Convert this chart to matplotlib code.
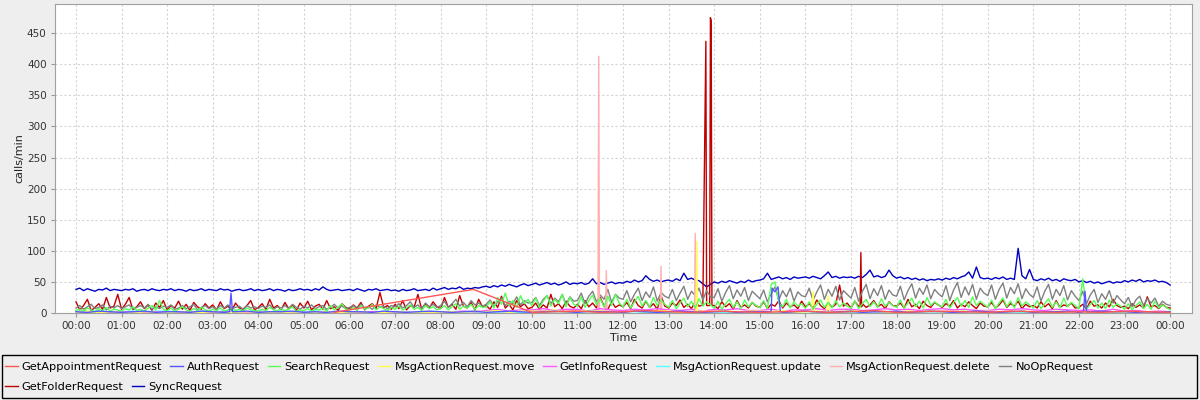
import numpy as np
import pandas as pd
import matplotlib
matplotlib.use('Agg')
import matplotlib.pyplot as plt
from matplotlib.lines import Line2D
from matplotlib.patches import Rectangle

# sample times in minutes after midnight
t5 = np.arange(0, 1441, 5)
t15 = np.arange(0, 1441, 15)

# SyncRequest, 5-minute samples (calls/min)
sync_vals = [
    38, 40, 36, 39, 37, 35, 38, 37, 40, 36, 38, 37,
    36, 38, 37, 39, 35, 37, 38, 36, 39, 37, 36, 38,
    37, 39, 36, 38, 37, 35, 38, 36, 37, 39, 36, 38,
    37, 36, 39, 37, 38, 35, 37, 38, 36, 37, 39, 36,
    38, 36, 37, 39, 36, 38, 37, 35, 38, 36, 37, 39,
    37, 38, 36, 39, 37, 42, 38, 36, 37, 38, 36, 37,
    38, 36, 39, 37, 35, 38, 37, 39, 36, 37, 38, 36,
    37, 35, 38, 36, 37, 39, 36, 37, 38, 36, 40, 37,
    39, 41, 38, 40, 39, 42, 38, 40, 39, 41, 40, 42,
    43, 41, 44, 42, 45, 43, 46, 44, 42, 45, 47, 44,
    46, 48, 45, 47, 49, 46, 48, 45, 47, 50, 46, 48,
    47, 49, 46, 48, 55, 47, 49, 46, 48, 50, 47, 49,
    48, 51, 49, 53, 50, 52, 60, 54, 51, 53, 50, 52,
    53, 51, 55, 52, 64, 54, 56, 53, 52, 47, 42, 46,
    50, 48, 51, 49, 52, 50, 48, 51, 49, 53, 50, 52,
    53, 55, 64, 54, 56, 58, 55, 57, 54, 58, 56, 57,
    58, 56, 59, 57, 55, 60, 66, 57, 59, 56, 58, 57,
    58, 56, 59, 57, 62, 69, 58, 60, 57, 59, 69, 60,
    56, 58, 55, 57, 54, 56, 53, 55, 52, 54, 53, 55,
    53, 56, 54, 57, 55, 58, 60, 66, 56, 74, 57, 55,
    56, 54, 57, 55, 58, 54, 56, 54, 104, 60, 55, 70,
    54, 52, 55, 53, 56, 52, 54, 51, 55, 53, 52, 54,
    50, 52, 49, 51, 48, 50, 47, 49, 51, 48, 50, 49,
    52, 50, 53, 51, 54, 50, 52, 51, 53, 50, 51, 49,
    45]

# NoOpRequest, 5-minute samples
noop_vals = [
    8, 12, 6, 10, 14, 7, 9, 13, 5, 11, 8, 12,
    7, 10, 13, 6, 9, 12, 8, 14, 6, 10, 7, 11,
    9, 13, 6, 8, 12, 7, 10, 14, 5, 9, 12, 7,
    10, 6, 12, 8, 13, 7, 9, 11, 6, 12, 8, 10,
    7, 11, 9, 13, 6, 10, 8, 12, 7, 14, 9, 6,
    11, 8, 13, 7, 10, 12, 6, 9, 14, 8, 11, 7,
    9, 12, 7, 14, 8, 10, 6, 13, 9, 11, 7, 12,
    10, 15, 8, 12, 18, 9, 13, 7, 16, 10, 14, 9,
    12, 19, 9, 15, 22, 11, 17, 10, 20, 13, 16, 11,
    14, 21, 10, 18, 24, 12, 19, 15, 26, 13, 20, 16,
    17, 25, 12, 22, 28, 15, 24, 18, 30, 14, 26, 19,
    20, 32, 15, 27, 35, 18, 29, 22, 38, 17, 30, 24,
    22, 36, 18, 30, 40, 20, 34, 25, 42, 19, 33, 27,
    24, 38, 20, 32, 43, 22, 35, 28, 40, 21, 36, 26,
    25, 39, 19, 33, 44, 23, 37, 27, 41, 20, 35, 29,
    23, 37, 18, 31, 42, 21, 36, 26, 40, 19, 34, 28,
    26, 40, 20, 34, 45, 22, 38, 27, 43, 21, 36, 30,
    24, 41, 19, 35, 46, 23, 39, 28, 44, 22, 37, 29,
    27, 43, 21, 36, 47, 24, 40, 30, 45, 23, 38, 31,
    26, 44, 20, 37, 49, 25, 42, 29, 46, 22, 40, 32,
    28, 45, 22, 38, 48, 24, 41, 31, 47, 23, 39, 30,
    25, 42, 19, 35, 46, 22, 38, 28, 44, 21, 36, 27,
    20, 35, 15, 29, 38, 17, 31, 22, 36, 16, 28, 21,
    15, 25, 10, 21, 27, 12, 23, 16, 24, 11, 19, 14,
    12]

# SearchRequest, 5-minute samples
search_vals = [
    4, 6, 3, 8, 5, 2, 7, 4, 9, 3, 6, 5,
    3, 7, 5, 10, 4, 6, 3, 8, 12, 5, 20, 6,
    4, 8, 3, 6, 10, 5, 3, 7, 4, 9, 5, 3,
    6, 4, 8, 3, 5, 7, 4, 6, 3, 8, 5, 4,
    3, 6, 4, 9, 5, 3, 7, 4, 6, 10, 3, 5,
    4, 7, 3, 6, 5, 8, 3, 12, 5, 9, 15, 6,
    5, 9, 4, 12, 6, 8, 14, 5, 10, 7, 4, 9,
    6, 11, 5, 8, 13, 6, 9, 4, 12, 7, 10, 5,
    7, 12, 5, 10, 15, 6, 11, 8, 14, 6, 12, 9,
    10, 18, 8, 25, 14, 32, 12, 20, 9, 28, 15, 22,
    12, 24, 9, 19, 28, 11, 22, 15, 30, 10, 25, 14,
    11, 26, 9, 20, 29, 13, 23, 10, 27, 12, 30, 16,
    10, 22, 8, 18, 27, 11, 20, 9, 25, 12, 21, 14,
    9, 20, 7, 16, 24, 10, 19, 8, 23, 11, 18, 13,
    8, 19, 6, 15, 22, 9, 18, 7, 21, 10, 17, 12,
    9, 20, 7, 46, 50, 16, 10, 22, 8, 18, 11, 15,
    7, 18, 6, 14, 21, 9, 17, 8, 20, 10, 16, 11,
    8, 20, 7, 15, 22, 10, 18, 9, 23, 11, 17, 12,
    9, 21, 8, 16, 24, 10, 19, 8, 25, 12, 18, 13,
    10, 22, 8, 17, 25, 11, 20, 9, 26, 12, 19, 14,
    9, 21, 7, 16, 24, 10, 19, 8, 25, 11, 18, 13,
    8, 20, 7, 15, 23, 9, 18, 8, 24, 10, 17, 12,
    7, 55, 6, 14, 20, 8, 16, 7, 21, 9, 15, 11,
    6, 15, 5, 12, 18, 7, 14, 6, 19, 8, 13, 9,
    5]

# GetFolderRequest, 5-minute samples plus the short spikes
folder_vals = [
    18, 5, 12, 22, 4, 9, 15, 6, 25, 8, 11, 30,
    6, 14, 25, 5, 10, 18, 7, 13, 4, 16, 9, 20,
    5, 12, 8, 19, 6, 14, 4, 17, 10, 6, 15, 8,
    13, 5, 18, 7, 11, 4, 16, 8, 6, 12, 20, 5,
    9, 15, 6, 22, 8, 12, 5, 17, 7, 13, 4, 16,
    8, 19, 5, 11, 14, 6, 20, 7, 10, 4, 15, 9,
    6, 13, 8, 17, 5, 11, 15, 7, 33, 9, 12, 6,
    14, 7, 20, 5, 12, 9, 30, 6, 15, 8, 18, 10,
    7, 25, 9, 14, 6, 28, 11, 8, 17, 5, 22, 10,
    12, 6, 18, 9, 27, 8, 14, 5, 20, 10, 15, 7,
    9, 16, 6, 13, 8, 30, 10, 15, 7, 19, 11, 8,
    14, 7, 20, 10, 16, 8, 25, 11, 6, 18, 9, 13,
    10, 17, 7, 22, 12, 8, 19, 9, 15, 6, 28, 11,
    8, 16, 12, 21, 9, 14, 7, 18, 11, 13, 30, 17,
    12, 7, 18, 10, 15, 6, 20, 9, 13, 8, 17, 11,
    9, 18, 7, 14, 11, 20, 8, 16, 10, 13, 7, 19,
    10, 15, 8, 21, 12, 7, 17, 9, 14, 45, 11, 16,
    8, 19, 11, 15, 9, 13, 20, 10, 14, 7, 18, 12,
    11, 16, 8, 22, 10, 14, 7, 19, 12, 9, 17, 13,
    9, 15, 11, 20, 8, 14, 10, 18, 12, 7, 16, 11,
    10, 17, 8, 13, 21, 9, 15, 11, 19, 7, 14, 10,
    12, 8, 18, 10, 15, 7, 20, 9, 13, 11, 16, 8,
    9, 14, 7, 19, 11, 13, 8, 16, 10, 22, 12, 9,
    11, 7, 15, 9, 13, 8, 26, 10, 12, 7, 14, 9,
    8]
folder_spike_t = [829, 830, 834, 835, 836, 837, 1032, 1033, 1034]
folder_spike_v = [437, 12, 12, 475, 470, 12, 10, 97, 10]

# AuthRequest, 15-minute samples plus spikes
auth_vals = [
    2, 1, 3, 2,  1, 2, 3, 1,  2, 2, 1, 3,  2, 1, 2, 3,
    1, 2, 2, 3,  1, 2, 1, 3,  2, 2, 1, 3,  2, 1, 2, 3,
    2, 1, 2, 3,  1, 2, 3, 2,  1, 2, 3, 2,  1, 3, 2, 2,
    1, 3, 2, 1,  2, 3, 2, 1,  2, 3, 1, 2,  2, 3, 1, 2,
    3, 2, 1, 2,  3, 1, 2, 2,  3, 1, 2, 3,  2, 1, 2, 3,
    2, 1, 2, 3,  1, 2, 2, 3,  1, 2, 3, 2,  2, 1, 2, 1,
    2]
auth_spike_t = [202, 204, 206, 913, 916, 920, 924, 927, 1326, 1328, 1330]
auth_spike_v = [2, 32, 2, 2, 40, 34, 42, 2, 2, 35, 2]

# GetInfoRequest, 15-minute samples
info_vals = [
    1, 2, 1, 1,  2, 1, 1, 2,  1, 1, 2, 1,  1, 2, 1, 1,
    2, 1, 1, 2,  1, 2, 1, 1,  1, 1, 2, 1,  2, 1, 1, 2,
    1, 2, 3, 2,  4, 6, 3, 5,  5, 7, 4, 6,  6, 3, 7, 5,
    4, 6, 5, 7,  5, 4, 6, 3,  6, 5, 7, 4,  4, 6, 3, 5,
    5, 7, 4, 6,  6, 4, 5, 7,  5, 6, 4, 6,  7, 5, 6, 4,
    4, 6, 5, 7,  5, 4, 6, 5,  4, 5, 3, 6,  3, 4, 2, 3,
    2]

# MsgActionRequest.update, 15-minute samples
update_vals = [
    3, 2, 3, 2,  2, 3, 2, 3,  3, 2, 2, 3,  2, 3, 3, 2,
    3, 2, 3, 2,  2, 3, 2, 2,  2, 1, 2, 1,  1, 2, 1, 2,
    2, 1, 1, 2,  1, 2, 2, 1,  2, 1, 2, 2,  1, 2, 1, 2,
    2, 2, 1, 1,  1, 2, 2, 1,  2, 1, 1, 2,  1, 2, 1, 2,
    2, 1, 2, 1,  1, 2, 2, 1,  2, 1, 1, 2,  1, 2, 3, 1,
    2, 1, 2, 1,  1, 2, 1, 2,  2, 1, 2, 1,  1, 2, 1, 1,
    1]

# MsgActionRequest.move, 15-minute samples plus spikes
move_vals = [
    1, 3, 0, 2,  1, 0, 2, 1,  0, 2, 1, 1,  2, 0, 1, 2,
    1, 1, 0, 2,  0, 1, 2, 1,  1, 2, 0, 1,  2, 1, 1, 0,
    1, 2, 1, 3,  2, 4, 1, 3,  3, 2, 5, 1,  2, 4, 3, 2,
    1, 3, 2, 4,  3, 1, 2, 3,  2, 4, 1, 3,  3, 2, 4, 1,
    2, 3, 1, 2,  4, 2, 3, 1,  2, 3, 2, 4,  1, 2, 3, 2,
    3, 1, 2, 3,  2, 1, 3, 2,  1, 2, 1, 2,  1, 1, 2, 1,
    1]
move_spike_t = [816, 817, 818, 968, 970, 972, 988, 990, 992]
move_spike_v = [3, 115, 3, 2, 35, 2, 2, 28, 2]

# MsgActionRequest.delete, 15-minute samples plus spikes
delete_vals = [
    1, 0, 1, 1,  0, 1, 0, 1,  1, 0, 1, 0,  0, 1, 1, 0,
    1, 0, 0, 1,  0, 1, 1, 0,  1, 0, 1, 1,  0, 1, 0, 1,
    1, 1, 2, 1,  2, 3, 1, 2,  3, 4, 2, 5,  3, 2, 4, 3,
    2, 3, 1, 2,  2, 1, 3, 2,  1, 2, 2, 3,  2, 1, 2, 1,
    2, 2, 1, 3,  1, 2, 2, 1,  2, 1, 3, 2,  1, 2, 1, 2,
    2, 1, 2, 1,  1, 2, 1, 2,  1, 1, 2, 1,  1, 0, 1, 1,
    1]
delete_spike_t = [687, 688, 689, 697, 698, 699, 769, 770, 771, 814, 815, 816]
delete_spike_v = [3, 413, 3, 3, 68, 3, 3, 75, 3, 3, 128, 3]

# GetAppointmentRequest: no data between 08:43 and 10:00 except the endpoints
appt_t = [340, 523, 600] + list(range(630, 1441, 30))
appt_vals = [1, 38, 1,
             2, 3, 1, 2, 4, 2, 1, 3, 2, 1, 2, 3, 1, 2,
             4, 1, 2, 3, 2, 1, 3, 2, 1, 2, 1, 3, 2, 1]


def with_spikes(t, v, st, sv):
    s = pd.Series(sv, index=st, dtype=float).combine_first(pd.Series(v, index=t, dtype=float))
    return s.index.values / 60.0, s.values


series = [
    ('GetAppointmentRequest', '#FF5555', np.array(appt_t) / 60.0, np.array(appt_vals)),
    ('AuthRequest', '#5555FF', *with_spikes(t15, auth_vals, auth_spike_t, auth_spike_v)),
    ('SearchRequest', '#55FF55', t5 / 60.0, np.array(search_vals)),
    ('MsgActionRequest.move', '#FFFF55', *with_spikes(t15, move_vals, move_spike_t, move_spike_v)),
    ('GetInfoRequest', '#FF55FF', t15 / 60.0, np.array(info_vals)),
    ('MsgActionRequest.update', '#55FFFF', t15 / 60.0, np.array(update_vals)),
    ('MsgActionRequest.delete', '#FFAFAF', *with_spikes(t15, delete_vals, delete_spike_t, delete_spike_v)),
    ('NoOpRequest', '#808080', t5 / 60.0, np.array(noop_vals)),
    ('GetFolderRequest', '#C00000', *with_spikes(t5, folder_vals, folder_spike_t, folder_spike_v)),
    ('SyncRequest', '#0000C0', t5 / 60.0, np.array(sync_vals)),
]

fig = plt.figure(figsize=(12, 4), dpi=100, facecolor='#EEEEEE')
ax = fig.add_axes([55 / 1200, 1 - 313 / 400, 1137 / 1200, 309 / 400])
ax.set_facecolor('white')

# first series drawn last (on top), like the original tool
n = len(series)
for i, (name, col, x, y) in enumerate(series):
    ax.plot(x, y, color=col, lw=1.0, zorder=3 + n - i)

ax.set_xlim(-0.46, 24.48)
ax.set_ylim(0, 497)
ax.set_xticks(range(25))
ax.set_xticklabels(['%02d:00' % (h % 24) for h in range(25)])
ax.set_yticks(range(0, 451, 50))
ax.tick_params(direction='out', length=3, width=0.8, color='#999999',
               labelsize=7.5, labelcolor='#333333', pad=3)
ax.grid(True, color='#D4D4D4', linestyle=(0, (2, 2)), lw=0.8)
ax.set_axisbelow(True)
for sp in ax.spines.values():
    sp.set_color('#A0A0A0')
    sp.set_linewidth(0.8)

ax.set_xlabel('Time', fontsize=8, color='#222222', labelpad=1)
ax.set_ylabel('calls/min', fontsize=8, color='#222222', labelpad=2)

# legend in two rows, inside a black frame
handles = [Line2D([0], [0], color=c, lw=1) for _, c, _, _ in series]
labels = [s[0] for s in series]
kw = dict(frameon=False, fontsize=8.2, handlelength=1.1, handletextpad=0.35,
          columnspacing=0.72, borderpad=0, borderaxespad=0, loc='upper left')
fig.legend(handles[:8], labels[:8], ncol=8, bbox_to_anchor=(5 / 1200, 1 - 362 / 400), **kw)
fig.legend(handles[8:], labels[8:], ncol=2, bbox_to_anchor=(5 / 1200, 1 - 382 / 400), **kw)
fig.patches.append(Rectangle((2 / 1200, 2 / 400), 1195 / 1200, 43 / 400,
                             transform=fig.transFigure, fill=False, ec='black', lw=1))

plt.savefig('out.png', dpi=100, facecolor=fig.get_facecolor())
